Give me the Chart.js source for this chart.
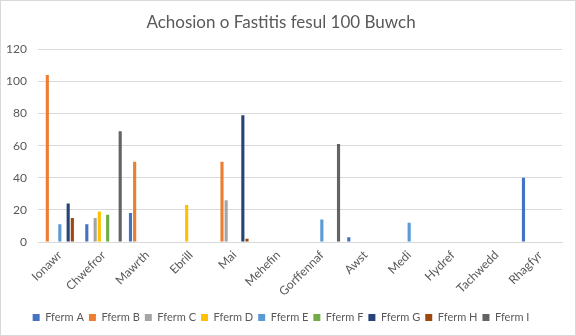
<!DOCTYPE html>
<html>
<head>
<meta charset="utf-8">
<script src="https://cdn.jsdelivr.net/npm/chart.js@4.4.1/dist/chart.umd.min.js"></script>
<style>
    html, body { margin: 0; padding: 0; background: #fff; }
    #wrap { width: 576px; height: 336px; }
</style>
</head>
<body>
<div id="wrap"><canvas id="mastitisChart" width="576" height="336"></canvas></div>
<script>
const months = ['Ionawr', 'Chwefror', 'Mawrth', 'Ebrill', 'Mai', 'Mehefin', 'Gorffennaf', 'Awst', 'Medi', 'Hydref', 'Tachwedd', 'Rhagfyr'];

const fermA = [null, 11, 18, null, null, null, null, 3, null, null, null, 40];
const fermB = [104, null, 50, null, 50, null, null, null, null, null, null, null];
const fermC = [null, 15, null, null, 26, null, null, null, null, null, null, null];
const fermD = [null, 19, null, 23, null, null, null, null, null, null, null, null];
const fermE = [11, null, null, null, null, null, 14, null, 12, null, null, null];
const fermF = [null, 17, null, null, null, null, null, null, null, null, null, null];
const fermG = [24, null, null, null, 79, null, null, null, null, null, null, null];
const fermH = [15, null, null, null, 2, null, null, null, null, null, null, null];
const fermI = [null, 69, null, null, null, null, 61, null, null, null, null, null];

const yTicks = [0, 20, 40, 60, 80, 100, 120];

const textColor = '#595959';
const gridColor = '#D9D9D9';
const fontFamily = 'Lato, "Liberation Sans", sans-serif';

// light frame round the whole chart, like the Excel chart border
const frame = {
    id: 'frame',
    afterDraw(chart) {
        const c = chart.ctx;
        c.save();
        c.strokeStyle = gridColor;
        c.lineWidth = 1;
        c.strokeRect(0.5, 0.5, chart.width - 1, chart.height - 1);
        c.restore();
    }
};

function series(label, data, color) {
    return {
        label: label,
        data: data,
        backgroundColor: color,
        borderWidth: 0,
        categoryPercentage: 0.86,
        barPercentage: 0.75
    };
}

const ctx = document.getElementById('mastitisChart').getContext('2d');
const chart = new Chart(ctx, {
    type: 'bar',
    data: {
        labels: months,
        datasets: [
            series('Fferm A', fermA, '#4472C4'),
            series('Fferm B', fermB, '#ED7D31'),
            series('Fferm C', fermC, '#A5A5A5'),
            series('Fferm D', fermD, '#FFC000'),
            series('Fferm E', fermE, '#5B9BD5'),
            series('Fferm F', fermF, '#70AD47'),
            series('Fferm G', fermG, '#264478'),
            series('Fferm H', fermH, '#9E480E'),
            series('Fferm I', fermI, '#636363')
        ]
    },
    options: {
        responsive: false,
        animation: false,
        layout: { padding: { left: 0, right: 14, top: 0, bottom: 3 } },
        plugins: {
            title: {
                display: true,
                text: 'Achosion o Fastitis fesul 100 Buwch',
                color: textColor,
                font: { family: fontFamily, size: 17, weight: 'normal' },
                padding: { top: 12, bottom: 17 }
            },
            legend: {
                position: 'bottom',
                labels: {
                    color: textColor,
                    font: { family: fontFamily, size: 11 },
                    boxWidth: 7,
                    boxHeight: 7,
                    padding: 5
                }
            },
            tooltip: { enabled: false }
        },
        scales: {
            x: {
                grid: { display: false, drawTicks: false },
                border: { display: true, color: gridColor },
                ticks: {
                    color: textColor,
                    font: { family: fontFamily, size: 12 },
                    maxRotation: 45,
                    minRotation: 45,
                    padding: 6,
                    autoSkip: false
                },
                afterFit(scale) { scale.height = 65; }
            },
            y: {
                min: 0,
                max: 120,
                afterBuildTicks(scale) { scale.ticks = yTicks.map(v => ({ value: v })); },
                grid: { color: gridColor, drawTicks: false },
                border: { display: false },
                ticks: {
                    color: textColor,
                    font: { family: fontFamily, size: 12 },
                    padding: 11
                },
                afterFit(scale) { scale.width = 38; }
            }
        }
    },
    plugins: [frame]
});
</script>
</body>
</html>
